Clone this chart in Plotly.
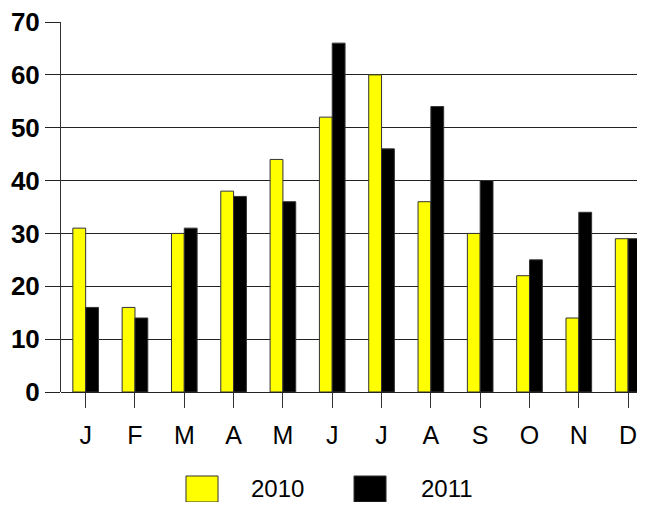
import plotly.graph_objects as go

months = ["J", "F", "M", "A", "M", "J", "J", "A", "S", "O", "N", "D"]
y2010 = [31, 16, 30, 38, 44, 52, 60, 36, 30, 22, 14, 29]
y2011 = [16, 14, 31, 37, 36, 66, 46, 54, 40, 25, 34, 29]
y_ticks = [0, 10, 20, 30, 40, 50, 60, 70]

xs = list(range(len(months)))

fig = go.Figure()
fig.add_trace(go.Bar(x=xs, y=y2010, name="2010",
                     marker=dict(color="#ffff00", line=dict(color="#333333", width=1))))
fig.add_trace(go.Bar(x=xs, y=y2011, name="2011",
                     marker=dict(color="#000000", line=dict(color="#333333", width=1))))

# page body has an 8px margin, so the figure is a bit smaller and shifted
fig.update_layout(
    width=629, height=494,
    margin=dict(l=53, r=0, t=14, b=110),
    plot_bgcolor="white", paper_bgcolor="white",
    barmode="group", bargap=0.48, bargroupgap=0,
    showlegend=False,
    font=dict(family="Liberation Sans, Arial", color="black"),
)
fig.update_xaxes(
    tickmode="array", tickvals=xs, ticktext=months,
    range=[-0.5, 11.18], automargin=False,
    showgrid=False, zeroline=False,
    showline=False,
    ticks="outside", ticklen=15, tickcolor="#333333", tickwidth=1,
    ticklabelstandoff=6, ticklabeloverflow="allow",
    tickfont=dict(size=25),
)
fig.update_yaxes(
    range=[0, 70], tickvals=y_ticks, automargin=False,
    showgrid=True, gridcolor="#222222", gridwidth=1,
    zeroline=True, zerolinecolor="#222222", zerolinewidth=1,
    showline=True, linecolor="#333333", linewidth=1,
    ticks="outside", ticklen=15, tickcolor="#222222", tickwidth=1,
    ticklabeloverflow="allow",
    tickfont=dict(size=26, family="Liberation Sans, Arial", weight="bold"),
)

# legend drawn by hand to get the big square swatches (paper units, plot height 370px)
legend = [("2010", "#ffff00", 0.217, 0.3767), ("2011", "#000000", 0.5087, 0.6701)]
for name, color, x0, tx in legend:
    fig.add_shape(type="rect", xref="paper", yref="paper",
                  x0=x0, x1=x0 + 0.0556, y0=-0.227, y1=-0.2973,
                  fillcolor=color, line=dict(color="#333333", width=1))
    fig.add_annotation(xref="paper", yref="paper", x=tx, y=-0.2595,
                       text=name, showarrow=False,
                       font=dict(size=24), xanchor="center", yanchor="middle")

fig.write_html("out.html")
